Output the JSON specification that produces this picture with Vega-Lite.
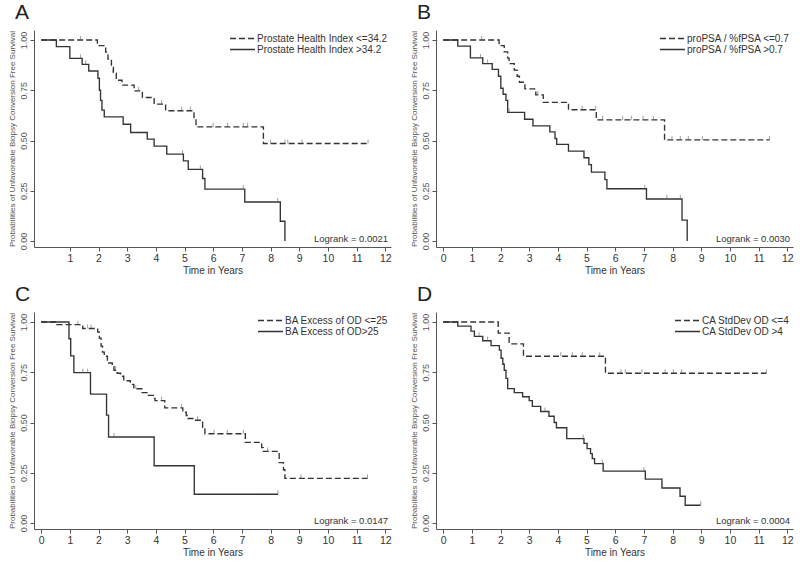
{
  "$schema": "https://vega.github.io/schema/vega-lite/v6.json",
  "background": "white",
  "padding": {"left": 8, "top": 2, "right": 2, "bottom": 2},
  "columns": 2,
  "spacing": {"row": 8, "column": 18},
  "config": {
    "font": "Liberation Sans",
    "view": {"stroke": null},
    "axis": {"domainColor": "#555", "tickColor": "#555", "labelColor": "#333", "titleColor": "#333", "grid": false, "titleFontWeight": "normal", "tickSize": 4, "labelFont": "Liberation Sans", "titleFont": "Liberation Sans", "labelOverlap": false, "labelSeparation": 0},
    "axisX": {"labelFontSize": 10.5, "titleFontSize": 10, "titlePadding": 2, "labelPadding": 2, "labelOverlap": false, "labelFlush": false},
    "axisY": {"labelFontSize": 9, "titleFontSize": 8, "labelAngle": -90, "labelPadding": 2, "titlePadding": 3, "titleColor": "#555", "labelColor": "#555"},
    "legend": {"orient": "top-right", "offset": 3, "title": null, "labelFontSize": 10, "labelColor": "#333", "symbolType": "stroke", "symbolSize": 625, "symbolStrokeWidth": 1.2, "symbolStrokeColor": "#333", "rowPadding": 0, "labelOffset": 1, "padding": 0, "clipHeight": 11},
    "title": {"anchor": "start", "frame": "group", "fontSize": 21, "fontWeight": "normal", "color": "#222", "offset": 7, "dx": -19},
    "line": {"interpolate": "step-after", "color": "#333", "strokeWidth": 1.35},
    "point": {"filled": false, "color": "#666", "strokeWidth": 0.9, "size": 64, "shape": "M0,-1L0,0"},
    "text": {"fontSize": 9.5, "color": "#333", "align": "right", "baseline": "middle"}
  },
  "resolve": {"scale": {"strokeDash": "independent"}, "legend": {"strokeDash": "independent"}},
  "concat": [
    {
      "title": {"text": "A"},
      "width": 357, "height": 217,
      "encoding": {
        "x": {"field": "t", "type": "quantitative", "scale": {"domain": [-0.25, 12.2], "nice": false, "zero": false}, "axis": {"title": "Time in Years", "values": [1, 2, 3, 4, 5, 6, 7, 8, 9, 10, 11, 12], "labelOverlap": false, "tickCount": 13}},
        "y": {"field": "s", "type": "quantitative", "scale": {"domain": [-0.03, 1.05], "nice": false}, "axis": {"title": "Probabilities of Unfavorable Biopsy Conversion Free Survival", "values": [0, 0.25, 0.5, 0.75, 1], "format": ".2f"}}
      },
      "layer": [
        {
          "data": {"values": [
            {"t": 0, "s": 1.0, "g": "Prostate Health Index <=34.2"},
            {"t": 1.96, "s": 0.972, "g": "Prostate Health Index <=34.2"},
            {"t": 2.25, "s": 0.94, "g": "Prostate Health Index <=34.2"},
            {"t": 2.33, "s": 0.905, "g": "Prostate Health Index <=34.2"},
            {"t": 2.45, "s": 0.87, "g": "Prostate Health Index <=34.2"},
            {"t": 2.52, "s": 0.835, "g": "Prostate Health Index <=34.2"},
            {"t": 2.62, "s": 0.8, "g": "Prostate Health Index <=34.2"},
            {"t": 2.82, "s": 0.776, "g": "Prostate Health Index <=34.2"},
            {"t": 3.24, "s": 0.747, "g": "Prostate Health Index <=34.2"},
            {"t": 3.53, "s": 0.714, "g": "Prostate Health Index <=34.2"},
            {"t": 3.94, "s": 0.681, "g": "Prostate Health Index <=34.2"},
            {"t": 4.34, "s": 0.648, "g": "Prostate Health Index <=34.2"},
            {"t": 5.33, "s": 0.61, "g": "Prostate Health Index <=34.2"},
            {"t": 5.4, "s": 0.568, "g": "Prostate Health Index <=34.2"},
            {"t": 7.75, "s": 0.485, "g": "Prostate Health Index <=34.2"},
            {"t": 11.4, "s": 0.485, "g": "Prostate Health Index <=34.2"},
            {"t": 0, "s": 1.0, "g": "Prostate Health Index >34.2"},
            {"t": 0.53, "s": 0.967, "g": "Prostate Health Index >34.2"},
            {"t": 1.0, "s": 0.909, "g": "Prostate Health Index >34.2"},
            {"t": 1.43, "s": 0.879, "g": "Prostate Health Index >34.2"},
            {"t": 1.66, "s": 0.846, "g": "Prostate Health Index >34.2"},
            {"t": 1.98, "s": 0.81, "g": "Prostate Health Index >34.2"},
            {"t": 2.03, "s": 0.75, "g": "Prostate Health Index >34.2"},
            {"t": 2.07, "s": 0.7, "g": "Prostate Health Index >34.2"},
            {"t": 2.12, "s": 0.651, "g": "Prostate Health Index >34.2"},
            {"t": 2.2, "s": 0.618, "g": "Prostate Health Index >34.2"},
            {"t": 2.86, "s": 0.581, "g": "Prostate Health Index >34.2"},
            {"t": 3.12, "s": 0.54, "g": "Prostate Health Index >34.2"},
            {"t": 3.7, "s": 0.507, "g": "Prostate Health Index >34.2"},
            {"t": 3.94, "s": 0.472, "g": "Prostate Health Index >34.2"},
            {"t": 4.38, "s": 0.432, "g": "Prostate Health Index >34.2"},
            {"t": 4.96, "s": 0.399, "g": "Prostate Health Index >34.2"},
            {"t": 5.13, "s": 0.356, "g": "Prostate Health Index >34.2"},
            {"t": 5.63, "s": 0.311, "g": "Prostate Health Index >34.2"},
            {"t": 5.71, "s": 0.258, "g": "Prostate Health Index >34.2"},
            {"t": 7.1, "s": 0.194, "g": "Prostate Health Index >34.2"},
            {"t": 8.34, "s": 0.098, "g": "Prostate Health Index >34.2"},
            {"t": 8.5, "s": 0.0, "g": "Prostate Health Index >34.2"}
          ]},
          "mark": {"type": "line"},
          "encoding": {
            "strokeDash": {"field": "g", "type": "nominal", "scale": {"domain": ["Prostate Health Index <=34.2", "Prostate Health Index >34.2"], "range": [[6, 3], [1, 0]]}}
          }
        },
        {
          "data": {"values": [
            {"t": 1.37, "s": 1.0}, {"t": 2.5, "s": 0.835}, {"t": 3.4, "s": 0.747}, {"t": 4.2, "s": 0.681},
            {"t": 4.9, "s": 0.648}, {"t": 5.2, "s": 0.648}, {"t": 6.0, "s": 0.568}, {"t": 6.5, "s": 0.568},
            {"t": 7.05, "s": 0.568}, {"t": 7.2, "s": 0.568}, {"t": 8.0, "s": 0.485}, {"t": 8.5, "s": 0.485},
            {"t": 8.6, "s": 0.485}, {"t": 9.1, "s": 0.485}, {"t": 11.4, "s": 0.485},
            {"t": 1.37, "s": 0.909}, {"t": 1.55, "s": 0.879}, {"t": 4.93, "s": 0.432}, {"t": 5.55, "s": 0.356},
            {"t": 7.05, "s": 0.258}, {"t": 8.25, "s": 0.194}
          ]},
          "mark": {"type": "point"}
        },
        {
          "data": {"values": [{"t": 12.1, "s": 0.01, "label": "Logrank = 0.0021"}]},
          "mark": {"type": "text"},
          "encoding": {"text": {"field": "label"}}
        }
      ]
    },
    {
      "title": {"text": "B"},
      "width": 357, "height": 217,
      "encoding": {
        "x": {"field": "t", "type": "quantitative", "scale": {"domain": [-0.25, 12.2], "nice": false, "zero": false}, "axis": {"title": "Time in Years", "values": [0, 1, 2, 3, 4, 5, 6, 7, 8, 9, 10, 11, 12], "labelOverlap": false, "tickCount": 13}},
        "y": {"field": "s", "type": "quantitative", "scale": {"domain": [-0.03, 1.05], "nice": false}, "axis": {"title": "Probabilities of Unfavorable Biopsy Conversion Free Survival", "values": [0, 0.25, 0.5, 0.75, 1], "format": ".2f"}}
      },
      "layer": [
        {
          "data": {"values": [
            {"t": 0, "s": 1.0, "g": "proPSA / %fPSA <=0.7"},
            {"t": 1.95, "s": 0.972, "g": "proPSA / %fPSA <=0.7"},
            {"t": 2.13, "s": 0.941, "g": "proPSA / %fPSA <=0.7"},
            {"t": 2.25, "s": 0.91, "g": "proPSA / %fPSA <=0.7"},
            {"t": 2.3, "s": 0.883, "g": "proPSA / %fPSA <=0.7"},
            {"t": 2.48, "s": 0.85, "g": "proPSA / %fPSA <=0.7"},
            {"t": 2.58, "s": 0.82, "g": "proPSA / %fPSA <=0.7"},
            {"t": 2.66, "s": 0.79, "g": "proPSA / %fPSA <=0.7"},
            {"t": 2.85, "s": 0.757, "g": "proPSA / %fPSA <=0.7"},
            {"t": 3.23, "s": 0.727, "g": "proPSA / %fPSA <=0.7"},
            {"t": 3.49, "s": 0.69, "g": "proPSA / %fPSA <=0.7"},
            {"t": 4.37, "s": 0.653, "g": "proPSA / %fPSA <=0.7"},
            {"t": 5.34, "s": 0.603, "g": "proPSA / %fPSA <=0.7"},
            {"t": 7.72, "s": 0.503, "g": "proPSA / %fPSA <=0.7"},
            {"t": 11.38, "s": 0.503, "g": "proPSA / %fPSA <=0.7"},
            {"t": 0, "s": 1.0, "g": "proPSA / %fPSA >0.7"},
            {"t": 0.51, "s": 0.97, "g": "proPSA / %fPSA >0.7"},
            {"t": 0.95, "s": 0.911, "g": "proPSA / %fPSA >0.7"},
            {"t": 1.38, "s": 0.883, "g": "proPSA / %fPSA >0.7"},
            {"t": 1.71, "s": 0.854, "g": "proPSA / %fPSA >0.7"},
            {"t": 1.93, "s": 0.82, "g": "proPSA / %fPSA >0.7"},
            {"t": 2.01, "s": 0.76, "g": "proPSA / %fPSA >0.7"},
            {"t": 2.09, "s": 0.73, "g": "proPSA / %fPSA >0.7"},
            {"t": 2.19, "s": 0.7, "g": "proPSA / %fPSA >0.7"},
            {"t": 2.25, "s": 0.64, "g": "proPSA / %fPSA >0.7"},
            {"t": 2.84, "s": 0.606, "g": "proPSA / %fPSA >0.7"},
            {"t": 3.13, "s": 0.573, "g": "proPSA / %fPSA >0.7"},
            {"t": 3.72, "s": 0.543, "g": "proPSA / %fPSA >0.7"},
            {"t": 3.9, "s": 0.51, "g": "proPSA / %fPSA >0.7"},
            {"t": 3.96, "s": 0.481, "g": "proPSA / %fPSA >0.7"},
            {"t": 4.37, "s": 0.447, "g": "proPSA / %fPSA >0.7"},
            {"t": 4.91, "s": 0.414, "g": "proPSA / %fPSA >0.7"},
            {"t": 5.08, "s": 0.38, "g": "proPSA / %fPSA >0.7"},
            {"t": 5.17, "s": 0.343, "g": "proPSA / %fPSA >0.7"},
            {"t": 5.64, "s": 0.305, "g": "proPSA / %fPSA >0.7"},
            {"t": 5.71, "s": 0.26, "g": "proPSA / %fPSA >0.7"},
            {"t": 7.09, "s": 0.209, "g": "proPSA / %fPSA >0.7"},
            {"t": 8.33, "s": 0.104, "g": "proPSA / %fPSA >0.7"},
            {"t": 8.51, "s": 0.0, "g": "proPSA / %fPSA >0.7"}
          ]},
          "mark": {"type": "line"},
          "encoding": {
            "strokeDash": {"field": "g", "type": "nominal", "scale": {"domain": ["proPSA / %fPSA <=0.7", "proPSA / %fPSA >0.7"], "range": [[6, 3], [1, 0]]}}
          }
        },
        {
          "data": {"values": [
            {"t": 1.34, "s": 1.0}, {"t": 3.3, "s": 0.727}, {"t": 4.85, "s": 0.653}, {"t": 5.32, "s": 0.653},
            {"t": 5.56, "s": 0.603}, {"t": 6.26, "s": 0.603}, {"t": 6.56, "s": 0.603}, {"t": 6.97, "s": 0.603},
            {"t": 7.33, "s": 0.603}, {"t": 7.98, "s": 0.503}, {"t": 8.27, "s": 0.503}, {"t": 8.55, "s": 0.503},
            {"t": 9.04, "s": 0.503}, {"t": 11.38, "s": 0.503},
            {"t": 1.3, "s": 0.911}, {"t": 1.55, "s": 0.883}, {"t": 2.3, "s": 0.64}, {"t": 7.03, "s": 0.26},
            {"t": 7.8, "s": 0.209}, {"t": 8.27, "s": 0.209}
          ]},
          "mark": {"type": "point"}
        },
        {
          "data": {"values": [{"t": 12.1, "s": 0.01, "label": "Logrank = 0.0030"}]},
          "mark": {"type": "text"},
          "encoding": {"text": {"field": "label"}}
        }
      ]
    },
    {
      "title": {"text": "C"},
      "width": 357, "height": 217,
      "encoding": {
        "x": {"field": "t", "type": "quantitative", "scale": {"domain": [-0.25, 12.2], "nice": false, "zero": false}, "axis": {"title": "Time in Years", "values": [0, 1, 2, 3, 4, 5, 6, 7, 8, 9, 10, 11, 12], "labelOverlap": false, "tickCount": 13}},
        "y": {"field": "s", "type": "quantitative", "scale": {"domain": [-0.03, 1.05], "nice": false}, "axis": {"title": "Probabilities of Unfavorable Biopsy Conversion Free Survival", "values": [0, 0.25, 0.5, 0.75, 1], "format": ".2f"}}
      },
      "layer": [
        {
          "data": {"values": [
            {"t": 0, "s": 1.0, "g": "BA Excess of OD <=25"},
            {"t": 0.54, "s": 0.987, "g": "BA Excess of OD <=25"},
            {"t": 1.45, "s": 0.968, "g": "BA Excess of OD <=25"},
            {"t": 1.97, "s": 0.95, "g": "BA Excess of OD <=25"},
            {"t": 2.03, "s": 0.92, "g": "BA Excess of OD <=25"},
            {"t": 2.09, "s": 0.88, "g": "BA Excess of OD <=25"},
            {"t": 2.14, "s": 0.85, "g": "BA Excess of OD <=25"},
            {"t": 2.2, "s": 0.83, "g": "BA Excess of OD <=25"},
            {"t": 2.31, "s": 0.796, "g": "BA Excess of OD <=25"},
            {"t": 2.48, "s": 0.778, "g": "BA Excess of OD <=25"},
            {"t": 2.54, "s": 0.76, "g": "BA Excess of OD <=25"},
            {"t": 2.65, "s": 0.745, "g": "BA Excess of OD <=25"},
            {"t": 2.77, "s": 0.73, "g": "BA Excess of OD <=25"},
            {"t": 2.88, "s": 0.708, "g": "BA Excess of OD <=25"},
            {"t": 3.11, "s": 0.69, "g": "BA Excess of OD <=25"},
            {"t": 3.23, "s": 0.668, "g": "BA Excess of OD <=25"},
            {"t": 3.51, "s": 0.649, "g": "BA Excess of OD <=25"},
            {"t": 3.74, "s": 0.635, "g": "BA Excess of OD <=25"},
            {"t": 3.91, "s": 0.62, "g": "BA Excess of OD <=25"},
            {"t": 3.97, "s": 0.609, "g": "BA Excess of OD <=25"},
            {"t": 4.31, "s": 0.573, "g": "BA Excess of OD <=25"},
            {"t": 4.94, "s": 0.551, "g": "BA Excess of OD <=25"},
            {"t": 5.06, "s": 0.535, "g": "BA Excess of OD <=25"},
            {"t": 5.12, "s": 0.52, "g": "BA Excess of OD <=25"},
            {"t": 5.29, "s": 0.511, "g": "BA Excess of OD <=25"},
            {"t": 5.63, "s": 0.475, "g": "BA Excess of OD <=25"},
            {"t": 5.71, "s": 0.444, "g": "BA Excess of OD <=25"},
            {"t": 7.12, "s": 0.401, "g": "BA Excess of OD <=25"},
            {"t": 7.69, "s": 0.375, "g": "BA Excess of OD <=25"},
            {"t": 7.75, "s": 0.356, "g": "BA Excess of OD <=25"},
            {"t": 8.3, "s": 0.3, "g": "BA Excess of OD <=25"},
            {"t": 8.45, "s": 0.265, "g": "BA Excess of OD <=25"},
            {"t": 8.5, "s": 0.222, "g": "BA Excess of OD <=25"},
            {"t": 11.38, "s": 0.222, "g": "BA Excess of OD <=25"},
            {"t": 0, "s": 1.0, "g": "BA Excess of OD>25"},
            {"t": 0.97, "s": 0.917, "g": "BA Excess of OD>25"},
            {"t": 1.03, "s": 0.832, "g": "BA Excess of OD>25"},
            {"t": 1.14, "s": 0.748, "g": "BA Excess of OD>25"},
            {"t": 1.72, "s": 0.641, "g": "BA Excess of OD>25"},
            {"t": 2.28, "s": 0.537, "g": "BA Excess of OD>25"},
            {"t": 2.35, "s": 0.428, "g": "BA Excess of OD>25"},
            {"t": 3.94, "s": 0.285, "g": "BA Excess of OD>25"},
            {"t": 5.34, "s": 0.143, "g": "BA Excess of OD>25"},
            {"t": 8.26, "s": 0.143, "g": "BA Excess of OD>25"}
          ]},
          "mark": {"type": "line"},
          "encoding": {
            "strokeDash": {"field": "g", "type": "nominal", "scale": {"domain": ["BA Excess of OD <=25", "BA Excess of OD>25"], "range": [[6, 3], [1, 0]]}}
          }
        },
        {
          "data": {"values": [
            {"t": 1.28, "s": 0.987}, {"t": 1.62, "s": 0.968}, {"t": 1.74, "s": 0.968}, {"t": 2.6, "s": 0.76},
            {"t": 3.3, "s": 0.668}, {"t": 4.2, "s": 0.609}, {"t": 4.89, "s": 0.573}, {"t": 5.45, "s": 0.511},
            {"t": 6.03, "s": 0.444}, {"t": 6.49, "s": 0.444}, {"t": 7.05, "s": 0.444}, {"t": 7.9, "s": 0.356},
            {"t": 9.06, "s": 0.222}, {"t": 11.38, "s": 0.222},
            {"t": 1.45, "s": 0.748}, {"t": 1.62, "s": 0.748}, {"t": 2.54, "s": 0.428}, {"t": 8.26, "s": 0.143}
          ]},
          "mark": {"type": "point"}
        },
        {
          "data": {"values": [{"t": 12.1, "s": 0.01, "label": "Logrank = 0.0147"}]},
          "mark": {"type": "text"},
          "encoding": {"text": {"field": "label"}}
        }
      ]
    },
    {
      "title": {"text": "D"},
      "width": 357, "height": 217,
      "encoding": {
        "x": {"field": "t", "type": "quantitative", "scale": {"domain": [-0.25, 12.2], "nice": false, "zero": false}, "axis": {"title": "Time in Years", "values": [0, 1, 2, 3, 4, 5, 6, 7, 8, 9, 10, 11, 12], "labelOverlap": false, "tickCount": 13}},
        "y": {"field": "s", "type": "quantitative", "scale": {"domain": [-0.03, 1.05], "nice": false}, "axis": {"title": "Probabilities of Unfavorable Biopsy Conversion Free Survival", "values": [0, 0.25, 0.5, 0.75, 1], "format": ".2f"}}
      },
      "layer": [
        {
          "data": {"values": [
            {"t": 0, "s": 1.0, "g": "CA StdDev OD <=4"},
            {"t": 1.92, "s": 0.945, "g": "CA StdDev OD <=4"},
            {"t": 2.3, "s": 0.891, "g": "CA StdDev OD <=4"},
            {"t": 2.8, "s": 0.83, "g": "CA StdDev OD <=4"},
            {"t": 5.66, "s": 0.745, "g": "CA StdDev OD <=4"},
            {"t": 11.27, "s": 0.745, "g": "CA StdDev OD <=4"},
            {"t": 0, "s": 1.0, "g": "CA StdDev OD >4"},
            {"t": 0.51, "s": 0.98, "g": "CA StdDev OD >4"},
            {"t": 0.97, "s": 0.955, "g": "CA StdDev OD >4"},
            {"t": 1.09, "s": 0.929, "g": "CA StdDev OD >4"},
            {"t": 1.38, "s": 0.907, "g": "CA StdDev OD >4"},
            {"t": 1.67, "s": 0.883, "g": "CA StdDev OD >4"},
            {"t": 1.96, "s": 0.86, "g": "CA StdDev OD >4"},
            {"t": 2.02, "s": 0.82, "g": "CA StdDev OD >4"},
            {"t": 2.08, "s": 0.79, "g": "CA StdDev OD >4"},
            {"t": 2.13, "s": 0.76, "g": "CA StdDev OD >4"},
            {"t": 2.19, "s": 0.72, "g": "CA StdDev OD >4"},
            {"t": 2.25, "s": 0.669, "g": "CA StdDev OD >4"},
            {"t": 2.48, "s": 0.649, "g": "CA StdDev OD >4"},
            {"t": 2.77, "s": 0.628, "g": "CA StdDev OD >4"},
            {"t": 3.0, "s": 0.609, "g": "CA StdDev OD >4"},
            {"t": 3.11, "s": 0.58, "g": "CA StdDev OD >4"},
            {"t": 3.4, "s": 0.555, "g": "CA StdDev OD >4"},
            {"t": 3.69, "s": 0.531, "g": "CA StdDev OD >4"},
            {"t": 3.87, "s": 0.5, "g": "CA StdDev OD >4"},
            {"t": 3.95, "s": 0.474, "g": "CA StdDev OD >4"},
            {"t": 4.31, "s": 0.42, "g": "CA StdDev OD >4"},
            {"t": 4.91, "s": 0.396, "g": "CA StdDev OD >4"},
            {"t": 5.02, "s": 0.37, "g": "CA StdDev OD >4"},
            {"t": 5.14, "s": 0.345, "g": "CA StdDev OD >4"},
            {"t": 5.2, "s": 0.32, "g": "CA StdDev OD >4"},
            {"t": 5.28, "s": 0.295, "g": "CA StdDev OD >4"},
            {"t": 5.58, "s": 0.258, "g": "CA StdDev OD >4"},
            {"t": 7.05, "s": 0.218, "g": "CA StdDev OD >4"},
            {"t": 7.63, "s": 0.174, "g": "CA StdDev OD >4"},
            {"t": 8.26, "s": 0.133, "g": "CA StdDev OD >4"},
            {"t": 8.44, "s": 0.088, "g": "CA StdDev OD >4"},
            {"t": 8.98, "s": 0.088, "g": "CA StdDev OD >4"}
          ]},
          "mark": {"type": "line"},
          "encoding": {
            "strokeDash": {"field": "g", "type": "nominal", "scale": {"domain": ["CA StdDev OD <=4", "CA StdDev OD >4"], "range": [[6, 3], [1, 0]]}}
          }
        },
        {
          "data": {"values": [
            {"t": 4.1, "s": 0.83}, {"t": 4.5, "s": 0.83}, {"t": 4.85, "s": 0.83}, {"t": 5.46, "s": 0.83},
            {"t": 6.2, "s": 0.745}, {"t": 6.35, "s": 0.745}, {"t": 6.93, "s": 0.745}, {"t": 7.74, "s": 0.745},
            {"t": 8.03, "s": 0.745}, {"t": 8.32, "s": 0.745}, {"t": 11.27, "s": 0.745},
            {"t": 1.25, "s": 0.929}, {"t": 1.55, "s": 0.907}, {"t": 3.55, "s": 0.555}, {"t": 4.88, "s": 0.42},
            {"t": 5.55, "s": 0.295}, {"t": 7.0, "s": 0.258}, {"t": 8.98, "s": 0.088}
          ]},
          "mark": {"type": "point"}
        },
        {
          "data": {"values": [{"t": 12.1, "s": 0.01, "label": "Logrank = 0.0004"}]},
          "mark": {"type": "text"},
          "encoding": {"text": {"field": "label"}}
        }
      ]
    }
  ]
}
